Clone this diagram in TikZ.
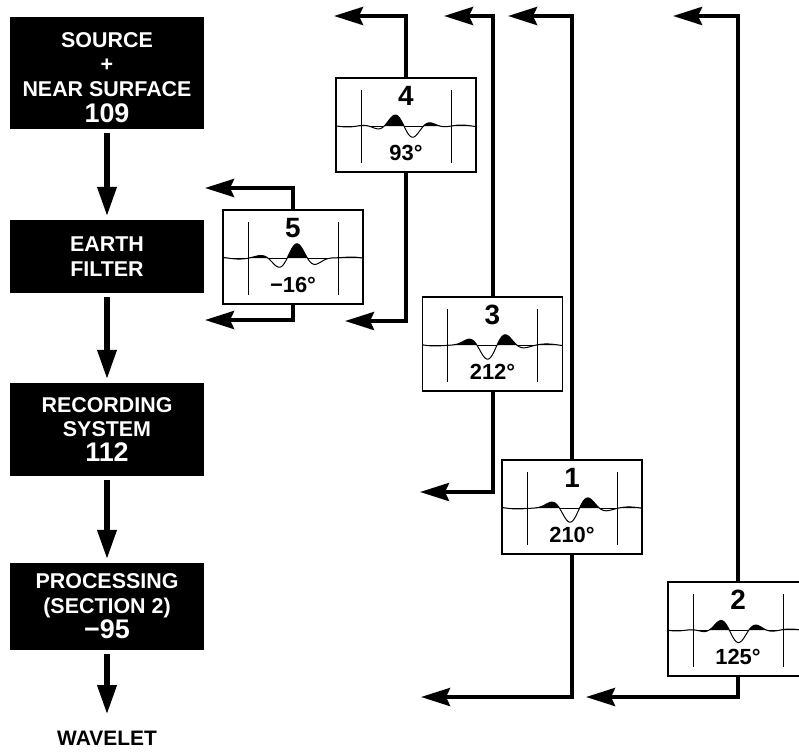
\documentclass[tikz,border=0pt]{standalone}
\usepackage{fontspec}
\setmainfont{Liberation Sans}
\usetikzlibrary{arrows.meta}
\newcommand\WPanel[7]{% #1 name, #2 cx, #3 top, #4 number, #5 angle, #6 phase, #7 offset
  \node[panel] (#1) at (#2,#3+47) {};
  \draw[tick] (#2-45,#3+12) -- (#2-45,#3+85);
  \draw[tick] (#2+45,#3+12) -- (#2+45,#3+85);
  \begin{scope}
    \clip (#2-70,#3+48) rectangle (#2+70,#3+18);
    \fill plot[domain=-70:70,samples=141,smooth] ({#2+\x},{#3+48-wav(\x-(#7),#6)}) -- (#2+70,#3+48) -- (#2-70,#3+48) -- cycle;
  \end{scope}
  \draw[wave] plot[domain=-70:70,samples=141,smooth] ({#2+\x},{#3+48-wav(\x-(#7),#6)});
  \node[pnum] (#1n) at (#2,#3+18) {#4};
  \node[pang] (#1a) at (#2,#3+75) {#5};
}
\begin{document}
\begin{tikzpicture}[x=1bp,y=-1bp,
  blk/.style={fill=black,text=white,minimum width=194bp,align=center,inner sep=0pt,font=\bfseries\fontsize{21.5}{24.5}\selectfont},
  bignum/.style={},
  flow/.style={line width=6.5bp,shorten <=4bp,shorten >=3bp,-{Triangle[width=18bp,length=30bp]}},
  conn/.style={line width=4bp,-{Stealth[width=18bp,length=29bp,inset=4bp]}},
  panel/.style={draw,line width=1.8bp,minimum width=140bp,minimum height=94bp,inner sep=0pt,fill=white},
  pnum/.style={font=\bfseries\fontsize{28}{28}\selectfont,inner sep=0pt},
  pang/.style={font=\bfseries\fontsize{22}{22}\selectfont,inner sep=0pt},
  tick/.style={line width=0.8bp},
  wave/.style={line width=1bp},
  declare function={wav(\t,\p)=14*exp(-(\t/24)^2)*cos(9*\t+\p)+1.0*sin(8*\t);}
]
\useasboundingbox (0,0) rectangle (799,752);
\clip (0,0) rectangle (799,752);

% left flow chain
\node[blk,minimum height=112bp] (src) at (107,73) {\rule{0pt}{4bp}\\[-4bp]SOURCE\\+\\NEAR SURFACE\\[2bp]{\fontsize{27}{27}\selectfont 109}};
\node[blk,minimum height=73bp] (earth) at (107,256.5) {EARTH\\FILTER};
\node[blk,minimum height=93bp] (rec) at (107,429.5) {RECORDING\\SYSTEM\\[1bp]{\fontsize{27}{27}\selectfont 112}};
\node[blk,minimum height=87bp] (proc) at (107,606.5) {PROCESSING\\(SECTION 2)\\[1bp]{\fontsize{27}{27}\selectfont −95}};
\node[font=\bfseries\fontsize{21}{21}\selectfont,inner sep=0pt] (wvl) at (107,738) {WAVELET};
\coordinate (wt) at (107,715);

\draw[flow] (src.south) -- (earth.north);
\draw[flow] (earth.south) -- (rec.north);
\draw[flow] (rec.south) -- (proc.north);
\draw[flow,shorten >=0bp] (proc.south) -- (wt);

% wavelet panels
\WPanel{p5}{293}{210}{5}{−16°}{-16}{2}
\WPanel{p4}{406}{78}{4}{93°}{93}{-1.7}
\WPanel{p3}{492.5}{297}{3}{212°}{212}{-1.5}
\WPanel{p1}{572}{460}{1}{210°}{210}{1.3}
\WPanel{p2}{738}{582}{2}{125°}{125}{-4.6}

% connector ends
\coordinate (a5t) at (205,188);
\coordinate (a5b) at (205,320);
\coordinate (a4t) at (334,16);
\coordinate (a4b) at (345,321);
\coordinate (a3t) at (444,16);
\coordinate (a3b) at (420,492);
\coordinate (a1t) at (508,16);
\coordinate (a1b) at (421,697);
\coordinate (a2t) at (673,16);
\coordinate (a2b) at (586,697);

\draw[conn] (p5.north) |- (a5t);
\draw[conn] (p5.south) |- (a5b);
\draw[conn] (p4.north) |- (a4t);
\draw[conn] (p4.south) |- (a4b);
\draw[conn] (p3.north) |- (a3t);
\draw[conn] (p3.south) |- (a3b);
\draw[conn] (p1.north) |- (a1t);
\draw[conn] (p1.south) |- (a1b);
\draw[conn] (p2.north) |- (a2t);
\draw[conn] (p2.south) |- (a2b);
\end{tikzpicture}
\end{document}
